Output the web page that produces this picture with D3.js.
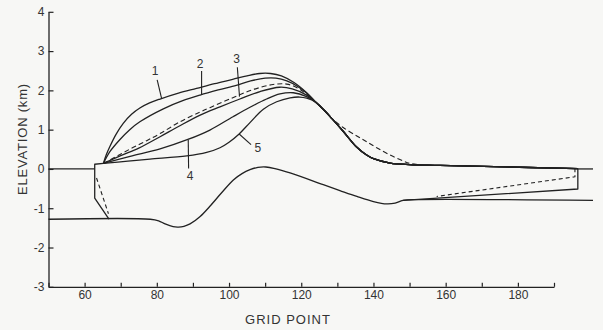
<!DOCTYPE html>
<html><head><meta charset="utf-8">
<script src="https://cdn.jsdelivr.net/npm/d3@7"></script>
<style>
html,body{margin:0;padding:0;background:#f7f7f5;}
svg{display:block;}
text{font-family:"Liberation Sans",Arial,sans-serif;fill:#333;}
</style></head><body><svg id="c" width="603" height="330"></svg>
<script>
// ---- axis / tick data ----
const xTicks = [50,60,70,80,90,100,110,120,130,140,150,160,170,180,190];
const xTickLabels = [60,80,100,120,140,160,180];
const yTicks = [-3,-2,-1,0,1,2,3,4];
const xTitle = "GRID POINT";
const yTitle = "ELEVATION (km)";

// ---- surface profiles (grid point, elevation km) ----
const profile1 = [[65.2,0.14],[66.0,0.36],[67.0,0.57],[68.7,0.88],[70.7,1.16],[73.0,1.39],[75.3,1.55],[78.0,1.68],[80.9,1.78],[86.0,1.93],[91.0,2.05],[96.0,2.17],[101.0,2.28],[105.0,2.37],[108.5,2.43],[111.5,2.43],[114.5,2.37],[118.0,2.20],[121.5,1.94]];
const profile2 = [[65.2,0.14],[67.0,0.44],[69.8,0.75],[72.5,1.00],[75.3,1.20],[81.8,1.53],[87.0,1.73],[92.0,1.88],[97.0,2.01],[102.0,2.13],[106.0,2.24],[110.0,2.31],[113.0,2.31],[116.0,2.24],[119.0,2.10],[121.5,1.93]];
const profile3 = [[65.2,0.14],[70.0,0.34],[75.0,0.53],[80.9,0.82],[86.0,1.08],[92.0,1.37],[97.5,1.58],[103.0,1.78],[108.6,1.97],[114.0,2.08],[117.5,2.04],[121.5,1.88]];
const profile4 = [[65.2,0.14],[72.6,0.32],[80.9,0.51],[88.6,0.75],[94.7,0.99],[101.1,1.33],[105.8,1.57],[110.4,1.78],[114.1,1.91],[117.8,1.94],[121.5,1.84]];
const profile5 = [[65.2,0.14],[72.0,0.20],[78.1,0.25],[88.3,0.33],[93.8,0.42],[97.5,0.54],[100.0,0.68],[102.8,0.89],[105.8,1.18],[109.5,1.52],[113.2,1.71],[116.9,1.81],[119.6,1.83],[121.5,1.80]];
const sharedTail = [[124.0,1.70],[126.5,1.48],[128.5,1.28],[131.6,0.96],[135.4,0.55],[138.0,0.36],[140.0,0.26],[144.6,0.15],[150.0,0.11],[158.4,0.09],[196.6,0.01]];
const dashedSurface = [[65.2,0.14],[69.8,0.37],[73.5,0.55],[77.2,0.72],[80.9,0.90],[86.4,1.20],[92.0,1.45],[94.7,1.56],[101.2,1.82],[106.7,2.02],[112.2,2.15],[116.0,2.16],[119.0,2.06],[121.5,1.90],[124.0,1.70],[126.5,1.47],[128.8,1.26],[131.5,1.06],[135.4,0.84],[138.0,0.70],[140.9,0.54],[144.5,0.36],[148.3,0.20],[150.1,0.14],[153.8,0.10]];

// ---- bed and ice-shelf outlines ----
const bed = [[50,-1.28],[78.2,-1.28],[80.5,-1.32],[82.3,-1.40],[84.5,-1.47],[86.0,-1.48],[87.5,-1.46],[89.2,-1.40],[92.0,-1.21],[94.7,-0.95],[98.0,-0.60],[101.2,-0.28],[103.6,-0.12],[105.8,-0.02],[108.0,0.04],[110.2,0.05],[112.7,0.01],[116.9,-0.10],[126.1,-0.40],[130.7,-0.55],[135.4,-0.70],[140.0,-0.83],[143.7,-0.89],[146.0,-0.87],[148.2,-0.80],[152.9,-0.78],[200.8,-0.80]];
const seaLeft = [[50,0],[62.8,0]];
const seaRight = [[196.6,0],[200.8,0]];
const frontLeft = [[65.2,0.14],[62.8,0.12],[62.8,-0.74],[66.75,-1.28]];
const shelfRight = [[196.6,0.01],[196.6,-0.51],[148.2,-0.80]];
const dashedLeft = [[63.3,-0.23],[66.6,-1.14]];
const dashedRight = [[195.8,0.02],[195.8,-0.20],[157.5,-0.70]];

// ---- curve labels ----
const labelText = ["1","2","3","4","5"];
const labelAt = [[79.5,2.49],[92.0,2.67],[102.1,2.80],[89.2,-0.19],[108.0,0.53]];
const leaderFrom = [[80.1,2.27],[92.4,2.49],[102.3,2.59],[88.8,0.01],[106.1,0.62]];
const leaderTo = [[81.3,1.80],[92.4,1.89],[102.9,1.84],[88.7,0.74],[102.8,0.89]];

// ---- drawing ----
const svg = d3.select("#c");
const x = d3.scaleLinear().domain([50,190]).range([48.5,554]);
const y = d3.scaleLinear().domain([-3,4]).range([286.8,11.8]);
const ink = "#222";

const smooth = d3.line().x(d=>x(d[0])).y(d=>y(d[1])).curve(d3.curveCatmullRom.alpha(0.5));
const straight = d3.line().x(d=>x(d[0])).y(d=>y(d[1]));

// axes
const xAxis = d3.axisBottom(x).tickValues(xTicks)
  .tickFormat(d => xTickLabels.includes(d) ? d : "")
  .tickSizeInner(-4).tickSizeOuter(0).tickPadding(4);
const gx = svg.append("g").attr("transform",`translate(0,${y(-3)})`).call(xAxis);
const yAxis = d3.axisLeft(y).tickValues(yTicks).tickFormat(d=>d)
  .tickSizeInner(-5).tickSizeOuter(0).tickPadding(4);
const gy = svg.append("g").attr("transform",`translate(${x(50)},0)`).call(yAxis);
[gx,gy].forEach(g=>{
  g.select(".domain").attr("stroke",ink).attr("stroke-width",1.3);
  g.selectAll(".tick line").attr("stroke",ink).attr("stroke-width",1.2);
  g.selectAll(".tick text").attr("font-size",12).attr("font-family","Liberation Sans, Arial, sans-serif").attr("fill","#333");
});

svg.append("text").attr("x",288).attr("y",324).attr("text-anchor","middle")
  .attr("font-size",13).attr("letter-spacing",1).text(xTitle);
svg.append("text").attr("transform","translate(27,139) rotate(-90)").attr("text-anchor","middle")
  .attr("font-size",13).attr("letter-spacing",0.8).text(yTitle);

const plot = svg.append("g").attr("fill","none").attr("stroke",ink).attr("stroke-width",1.3).attr("stroke-linejoin","round");

// solid surfaces
[profile1,profile2,profile3,profile4,profile5].forEach(p=>{
  plot.append("path").attr("d", smooth(p.concat(sharedTail)));
});
// dashed surface
plot.append("path").attr("d", smooth(dashedSurface)).attr("stroke-dasharray","5,3").attr("stroke-width",1.1);
// bed
plot.append("path").attr("d", smooth(bed));
// sea level, ice fronts
[seaLeft,seaRight,frontLeft,shelfRight].forEach(p=>plot.append("path").attr("d", straight(p)));
[dashedLeft,dashedRight].forEach(p=>plot.append("path").attr("d", straight(p)).attr("stroke-dasharray","4,3").attr("stroke-width",1.1));

// labels and leaders
labelText.forEach((t,i)=>{
  plot.append("path").attr("d", straight([leaderFrom[i],leaderTo[i]])).attr("stroke-width",1.1);
  svg.append("text").attr("x",x(labelAt[i][0])).attr("y",y(labelAt[i][1]))
    .attr("text-anchor","middle").attr("dominant-baseline","central")
    .attr("font-size",12).text(t);
});
</script></body></html>
